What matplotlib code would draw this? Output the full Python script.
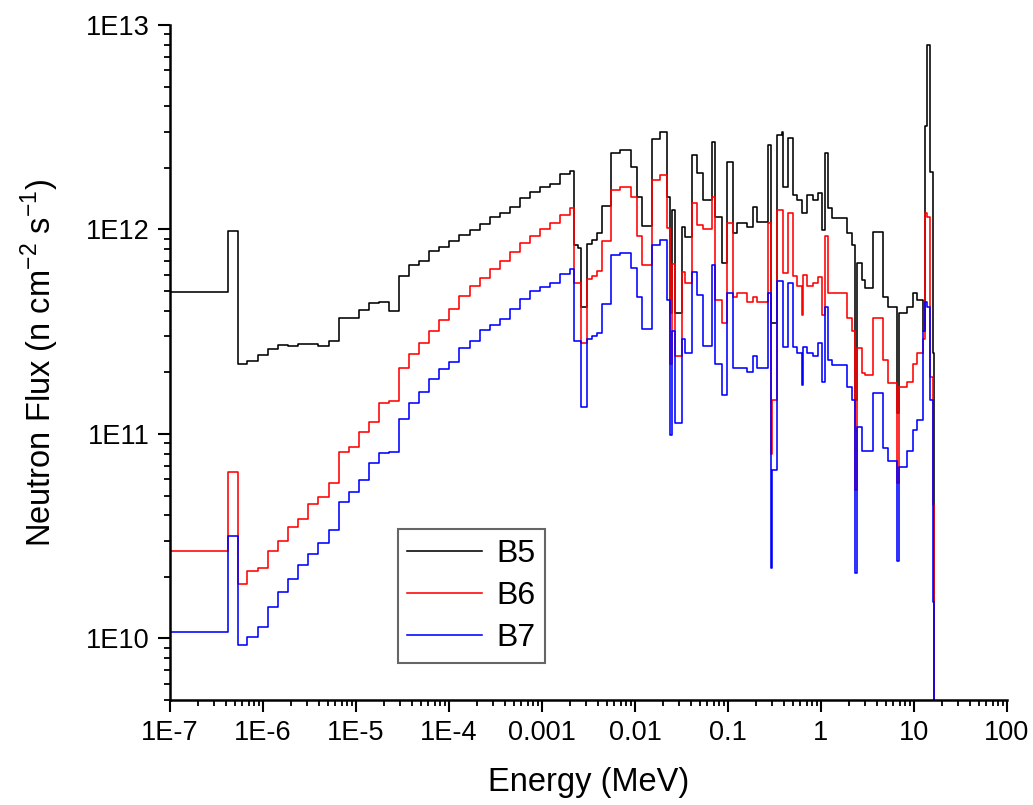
import numpy as np
import matplotlib
matplotlib.use("Agg")
import matplotlib.pyplot as plt
from matplotlib.ticker import LogLocator, NullFormatter, FixedLocator

plt.rcParams['font.family'] = ['Liberation Sans', 'DejaVu Sans']

# group boundaries (MeV)
edges = [1e-7, 4.24e-7, 5.42e-7, 6.78e-7, 8.77e-7, 1.14e-6, 1.46e-6, 1.87e-6, 2.40e-6,
         3.07e-6, 3.93e-6, 5.13e-6, 6.56e-6, 8.41e-6, 1.08e-5, 1.38e-5, 1.77e-5, 2.26e-5,
         2.90e-5, 3.71e-5, 4.80e-5, 6.14e-5, 7.87e-5, 1.01e-4, 1.29e-4, 1.68e-4, 2.16e-4,
         2.76e-4, 3.53e-4, 4.53e-4, 5.80e-4, 7.43e-4, 9.51e-4, 1.22e-3, 1.56e-3, 2.00e-3,
         2.22e-3, 2.45e-3, 2.61e-3, 3.03e-3, 3.42e-3, 3.87e-3, 4.39e-3, 5.48e-3, 6.90e-3,
         9.00e-3, 1.06e-2, 1.18e-2, 1.51e-2, 1.86e-2, 2.19e-2, 2.38e-2, 2.50e-2, 2.69e-2,
         3.18e-2, 3.45e-2, 4.07e-2, 4.60e-2, 5.42e-2, 6.68e-2, 7.24e-2, 8.55e-2, 9.68e-2,
         0.114, 0.124, 0.159, 0.187, 0.204, 0.272, 0.288, 0.300, 0.334, 0.378, 0.394,
         0.445, 0.504, 0.548, 0.619, 0.645, 0.702, 0.826, 0.935, 1.02, 1.10, 1.20, 1.30,
         1.89, 2.14, 2.32, 2.42, 2.74, 2.97, 3.65, 4.68, 5.30, 6.52, 6.95, 8.35, 9.82,
         10.7, 12.6, 13.1, 13.7, 14.9, 15.9, 16.5, 16.7]

b5 = [4.95e11, 9.8e11, 2.19e11, 2.28e11, 2.44e11, 2.61e11, 2.72e11, 2.69e11, 2.75e11,
      2.75e11, 2.70e11, 2.85e11, 3.71e11, 3.71e11, 4.06e11, 4.35e11, 4.40e11, 3.98e11,
      5.92e11, 6.67e11, 7.05e11, 7.88e11, 8.20e11, 8.77e11, 9.42e11, 9.92e11, 1.06e12,
      1.15e12, 1.21e12, 1.29e12, 1.43e12, 1.52e12, 1.61e12, 1.66e12, 1.87e12, 1.94e12,
      8.4e11, 8.1e11, 4.2e11, 8.5e11, 8.9e11, 9.6e11, 1.3e12, 2.36e12, 2.45e12,
      2.02e12, 1.44e12, 1.04e12, 2.77e12, 3.0e12, 1.44e12, 3.9e11, 1.24e12, 3.9e11,
      1.03e12, 9.2e11, 2.31e12, 1.89e12, 1.39e12, 2.68e12, 1.15e12, 6.85e11, 2.14e12,
      9.6e11, 1.07e12, 1.03e12, 1.29e12, 1.09e12, 2.59e12, 3.5e11, 3.5e11, 2.9e12,
      3.0e12, 1.61e12, 2.8e12, 1.47e12, 1.39e12, 1.2e12, 1.2e12, 1.47e12, 1.39e12,
      1.51e12, 9.9e11, 2.36e12, 1.27e12, 1.14e12, 9.6e11, 8.4e11, 1.46e11, 6.85e11,
      5.65e11, 5.2e11, 9.7e11, 4.7e11, 4.2e11, 1.26e11, 3.9e11, 4.2e11, 4.9e11,
      4.5e11, 3.2e11, 3.2e12, 8.0e12, 1.91e12, 2.5e11, 1e8]

b6 = [2.68e10, 6.51e10, 1.85e10, 2.14e10, 2.21e10, 2.67e10, 3.01e10, 3.49e10, 3.83e10,
      4.56e10, 4.93e10, 5.78e10, 8.20e10, 8.63e10, 1.02e11, 1.15e11, 1.41e11, 1.45e11,
      2.09e11, 2.46e11, 2.77e11, 3.19e11, 3.59e11, 4.09e11, 4.74e11, 5.30e11, 5.78e11,
      6.38e11, 7.05e11, 7.72e11, 8.60e11, 9.31e11, 1.01e12, 1.07e12, 1.18e12, 1.27e12,
      5.5e11, 5.5e11, 2.8e11, 5.7e11, 5.9e11, 6.3e11, 8.8e11, 1.56e12, 1.61e12,
      1.44e12, 9.3e11, 6.7e11, 1.75e12, 1.85e12, 1.02e12, 2.2e11, 6.8e11, 2.4e11,
      6.2e11, 5.5e11, 1.35e12, 1.05e12, 1.0e12, 1.44e12, 4.5e11, 3.5e11, 1.07e12,
      4.7e11, 4.9e11, 4.4e11, 4.7e11, 4.4e11, 1.07e12, 8.0e10, 1.46e11, 1.24e12,
      1.24e12, 6.1e11, 1.2e12, 5.9e11, 5.3e11, 3.8e11, 6.0e11, 5.3e11, 5.5e11,
      5.85e11, 3.8e11, 9.3e11, 4.9e11, 4.9e11, 3.7e11, 3.2e11, 5.3e10, 2.63e11,
      1.98e11, 1.94e11, 3.7e11, 2.3e11, 1.77e11, 5.75e10, 1.69e11, 1.8e11, 2.2e11,
      2.5e11, 2.9e11, 1.2e12, 1.15e12, 1.9e11, 4.5e10, 1e8]

b7 = [1.07e10, 3.16e10, 9.31e9, 1.02e10, 1.14e10, 1.43e10, 1.69e10, 1.95e10, 2.28e10,
      2.59e10, 2.92e10, 3.38e10, 4.65e10, 5.20e10, 5.97e10, 7.19e10, 8.04e10, 8.13e10,
      1.18e11, 1.42e11, 1.60e11, 1.85e11, 2.08e11, 2.26e11, 2.62e11, 2.86e11, 3.23e11,
      3.42e11, 3.66e11, 4.09e11, 4.56e11, 4.99e11, 5.24e11, 5.45e11, 6.08e11, 6.41e11,
      2.85e11, 2.85e11, 1.35e11, 2.9e11, 3.0e11, 3.1e11, 4.3e11, 7.5e11, 7.7e11,
      6.5e11, 4.7e11, 3.26e11, 8.4e11, 8.9e11, 4.5e11, 9.9e10, 3.2e11, 1.13e11,
      2.9e11, 2.5e11, 6.2e11, 4.8e11, 2.7e11, 6.7e11, 2.2e11, 1.55e11, 4.9e11,
      2.1e11, 2.1e11, 2.0e11, 2.4e11, 2.1e11, 4.9e11, 2.2e10, 6.7e10, 5.6e11,
      5.6e11, 2.66e11, 5.5e11, 2.66e11, 2.5e11, 1.73e11, 2.66e11, 2.5e11, 2.4e11,
      2.78e11, 1.79e11, 4.2e11, 2.3e11, 2.17e11, 1.69e11, 1.46e11, 2.1e10, 1.08e11,
      8.3e10, 8.3e10, 1.58e11, 8.5e10, 7.4e10, 2.4e10, 6.9e10, 8.3e10, 1.04e11,
      1.17e11, 3.2e11, 4.4e11, 4.2e11, 1.46e11, 1.5e10, 1e8]

series = [('B5', b5, 'black'), ('B6', b6, 'red'), ('B7', b7, 'blue')]

fig = plt.figure(figsize=(10.33, 8.05), dpi=100)
ax = fig.add_axes([170/1033, 105/805, 837/1033, 675/805])

for name, vals, col in series:
    ax.step(edges, np.append(vals, vals[-1]), where='post', color=col, lw=1.15, label=name)

ax.set_xscale('log')
ax.set_yscale('log')
ax.set_xlim(1e-7, 100)
ax.set_ylim(5e9, 1e13)

xt = [1e-7, 1e-6, 1e-5, 1e-4, 1e-3, 1e-2, 1e-1, 1, 10, 100]
xtl = ['1E-7', '1E-6', '1E-5', '1E-4', '0.001', '0.01', '0.1', '1', '10', '100']
yt = [1e10, 1e11, 1e12, 1e13]
ytl = ['1E10', '1E11', '1E12', '1E13']
ax.xaxis.set_major_locator(FixedLocator(xt))
ax.set_xticklabels(xtl)
ax.yaxis.set_major_locator(FixedLocator(yt))
ax.set_yticklabels(ytl)
ax.xaxis.set_minor_locator(LogLocator(base=10, subs=np.arange(2, 10), numticks=20))
ax.yaxis.set_minor_locator(LogLocator(base=10, subs=np.arange(2, 10), numticks=20))
ax.xaxis.set_minor_formatter(NullFormatter())
ax.yaxis.set_minor_formatter(NullFormatter())

for s in ['top', 'right']:
    ax.spines[s].set_visible(False)
for s in ['left', 'bottom']:
    ax.spines[s].set_linewidth(1.8)
ax.tick_params(which='major', direction='out', length=8.5, width=1.5, labelsize=19.5, pad=6)
ax.tick_params(which='minor', direction='out', length=4.5, width=1.3)

ax.set_xlabel('Energy (MeV)', fontsize=23.5, labelpad=15)
ax.set_ylabel('Neutron Flux (n cm$^{\\mathregular{-2}}$ s$^{\\mathregular{-1}}$)', fontsize=23.5, labelpad=18)

leg = ax.legend(loc='lower left', bbox_to_anchor=(0.272, 0.055), borderaxespad=0,
                fontsize=23, handlelength=2.35, fancybox=False, labelspacing=0.38,
                handletextpad=0.45, borderpad=0.3)
leg.get_frame().set_edgecolor('#404040')
leg.get_frame().set_linewidth(1.5)

fig.savefig('out.png', dpi=100)
